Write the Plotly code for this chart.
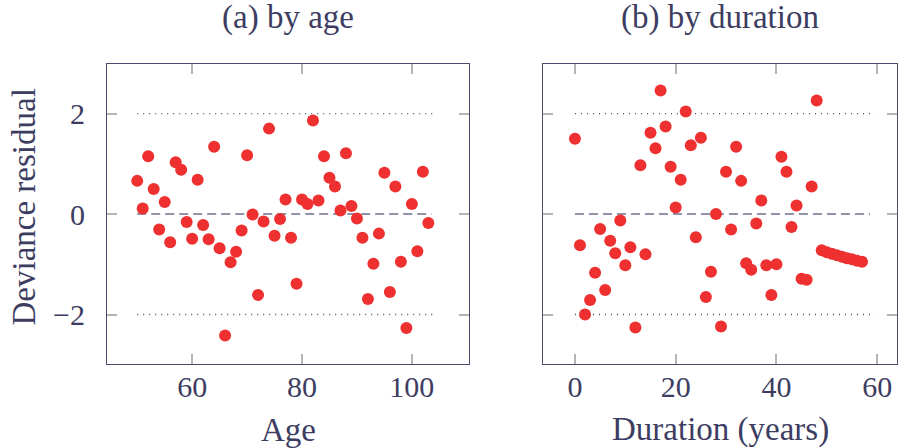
import plotly.graph_objects as go

# ---- data ----
age = list(range(50, 104))
resid_age = [0.66, 0.11, 1.15, 0.50, -0.31, 0.24, -0.56, 1.03, 0.88, -0.16,
             -0.49, 0.68, -0.22, -0.50, 1.34, -0.68, -2.42, -0.96, -0.75, -0.33,
             1.17, -0.01, -1.61, -0.15, 1.70, -0.43, -0.10, 0.29, -0.47, -1.39,
             0.29, 0.20, 1.86, 0.27, 1.15, 0.72, 0.55, 0.07, 1.21, 0.16,
             -0.09, -0.47, -1.69, -0.99, -0.39, 0.82, -1.55, 0.55, -0.95, -2.27,
             0.20, -0.74, 0.84, -0.18]

duration = list(range(0, 58))
resid_dur = [1.50, -0.62, -2.00, -1.71, -1.17, -0.30, -1.51, -0.53, -0.78, -0.13,
             -1.02, -0.66, -2.26, 0.97, -0.80, 1.62, 1.31, 2.46, 1.74, 0.94,
             0.13, 0.68, 2.04, 1.37, -0.46, 1.52, -1.65, -1.15, 0.00, -2.24,
             0.84, -0.31, 1.34, 0.66, -0.98, -1.11, -0.19, 0.27, -1.02, -1.61,
             -1.00, 1.14, 0.84, -0.26, 0.17, -1.29, -1.31, 0.55, 2.26, -0.72,
             -0.76, -0.79, -0.82, -0.85, -0.88, -0.90, -0.93, -0.95]

titles = ["(a) by age", "(b) by duration"]
xlabels = ["Age", "Duration (years)"]
ylabel = "Deviance residual"
ref_levels = [-2, 2]

# ---- style ----
TXT = "#3d3d62"
AXC = "#4a4a70"
RED = "#EE3030"
FONT = "Liberation Serif"
LBL = 33
TICK = 30

fig = go.Figure()

panels = [
    dict(x=age, y=resid_age, xa="x", ya="y", xr=[44.5, 110.4], dom=[0.1189, 0.5211],
         ticks=[60, 80, 100], ext=[1.2, 0.6]),
    dict(x=duration, y=resid_dur, xa="x2", ya="y2", xr=[-6.35, 63.95], dom=[0.6033, 0.9967],
         ticks=[0, 20, 40, 60], ext=[2.6, 1.6]),
]

for i, p in enumerate(panels):
    x0 = min(p["x"])
    x1 = max(p["x"])
    for lv in ref_levels:
        fig.add_trace(go.Scatter(x=[x0, x1 + p["ext"][0]], y=[lv, lv], mode="lines",
                                 line=dict(color=AXC, width=1.3, dash="1px,5px"),
                                 xaxis=p["xa"], yaxis=p["ya"], hoverinfo="skip",
                                 showlegend=False))
    fig.add_trace(go.Scatter(x=[x0, x1 + p["ext"][1]], y=[0, 0], mode="lines",
                             line=dict(color="#6f6f8f", width=1.6, dash="9px,5px"),
                             xaxis=p["xa"], yaxis=p["ya"], hoverinfo="skip",
                             showlegend=False))
    fig.add_trace(go.Scatter(x=p["x"], y=p["y"], mode="markers",
                             marker=dict(color=RED, size=12, line=dict(width=0)),
                             xaxis=p["xa"], yaxis=p["ya"], showlegend=False))

axis_common = dict(showgrid=False, zeroline=False, showline=True, linecolor=AXC,
                   linewidth=1.2, mirror="ticks", ticks="inside", ticklen=10,
                   tickwidth=1.5, tickcolor="#b4b4b4",
                   tickfont=dict(family=FONT, size=TICK, color=TXT))

fig.update_layout(
    width=900, height=448,
    margin=dict(l=0, r=0, t=0, b=0),
    plot_bgcolor="white", paper_bgcolor="white",
    xaxis=dict(domain=panels[0]["dom"], range=panels[0]["xr"], tickvals=panels[0]["ticks"],
               anchor="y", ticklabelstandoff=-4, **axis_common),
    yaxis=dict(domain=[0.1875, 0.857], range=[-2.985, 2.985], tickvals=[-2, 0, 2],
               anchor="x", ticklabelstandoff=15, **axis_common),
    xaxis2=dict(domain=panels[1]["dom"], range=panels[1]["xr"], tickvals=panels[1]["ticks"],
                anchor="y2", ticklabelstandoff=-4, **axis_common),
    yaxis2=dict(domain=[0.1875, 0.857], range=[-2.985, 2.985], tickvals=[-2, 0, 2],
                anchor="x2", showticklabels=False,
                **{k: v for k, v in axis_common.items() if k != "tickfont"}),
)

centers = [(p["dom"][0] + p["dom"][1]) / 2 for p in panels]
for c, t, xl in zip(centers, titles, xlabels):
    fig.add_annotation(x=c, y=1 - 17.5 / 448, xref="paper", yref="paper", text=t,
                       showarrow=False, font=dict(family=FONT, size=LBL, color=TXT),
                       xanchor="center", yanchor="middle")
    fig.add_annotation(x=c, y=1 - 429.5 / 448, xref="paper", yref="paper", text=xl,
                       showarrow=False, font=dict(family=FONT, size=LBL, color=TXT),
                       xanchor="center", yanchor="middle")

fig.add_annotation(x=24 / 900, y=1 - 207.5 / 448, xref="paper", yref="paper", text=ylabel,
                   textangle=-90, showarrow=False,
                   font=dict(family=FONT, size=LBL, color=TXT),
                   xanchor="center", yanchor="middle")

fig.write_html("out.html")
